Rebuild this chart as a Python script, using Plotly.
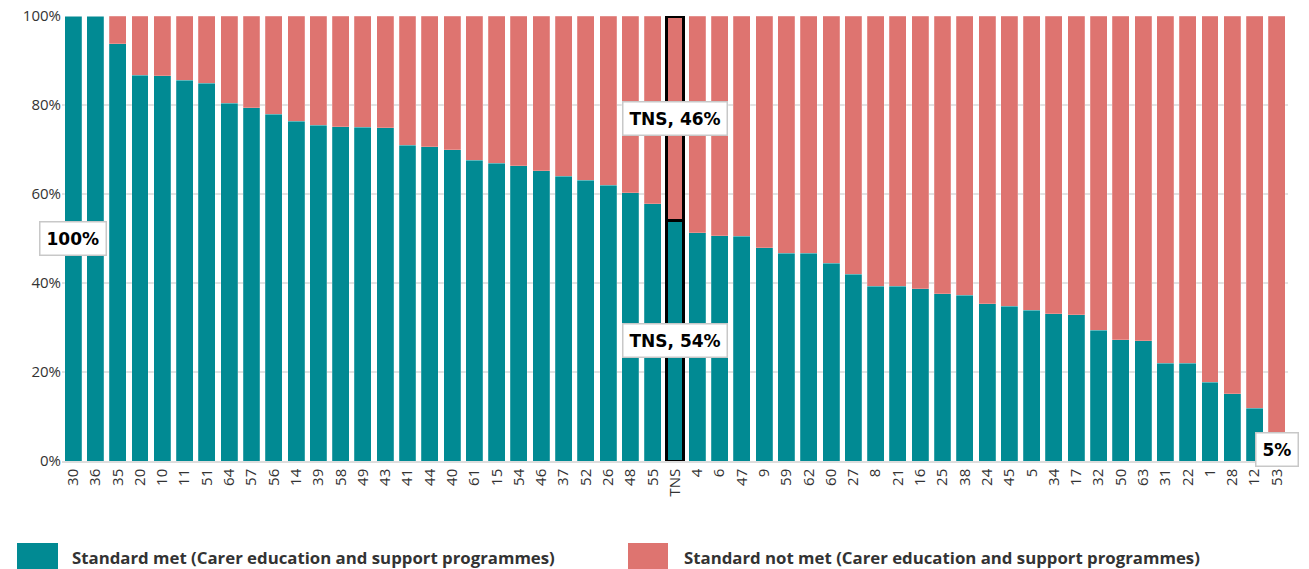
import plotly.graph_objects as go

categories = ["30", "36", "35", "20", "10", "11", "51", "64", "57", "56", "14", "39", "58", "49",
              "43", "41", "44", "40", "61", "15", "54", "46", "37", "52", "26", "48", "55", "TNS",
              "4", "6", "47", "9", "59", "62", "60", "27", "8", "21", "16", "25", "38", "24", "45",
              "5", "34", "17", "32", "50", "63", "31", "22", "1", "28", "12", "53"]
met = [100, 100, 93.8, 86.7, 86.6, 85.6, 84.9, 80.4, 79.4, 77.9, 76.3, 75.5, 75.1, 75.0,
       74.9, 71.0, 70.6, 69.9, 67.6, 66.9, 66.3, 65.2, 64.0, 63.1, 62.0, 60.3, 57.8, 54.0,
       51.3, 50.6, 50.5, 47.9, 46.7, 46.7, 44.4, 42.0, 39.3, 39.3, 38.7, 37.6, 37.2, 35.3, 34.8,
       33.9, 33.1, 32.9, 29.4, 27.2, 27.0, 22.0, 22.0, 17.7, 15.1, 11.8, 5.0]
not_met = [round(100 - v, 1) for v in met]
series_names = ["Standard met (Carer education and support programmes)",
                "Standard not met (Carer education and support programmes)"]
highlight = "TNS"
y_ticks = [0, 20, 40, 60, 80, 100]
y_tick_labels = ["0%", "20%", "40%", "60%", "80%", "100%"]

TEAL = "#018a93"
RED = "#de7470"

line_w = [3 if c == highlight else 0.6 for c in categories]
line_c = ["black" if c == highlight else "rgba(255,255,255,0.35)" for c in categories]

fig = go.Figure()
fig.add_trace(go.Bar(x=categories, y=met, name=series_names[0], marker=dict(
    color=TEAL, line=dict(color=line_c, width=line_w))))
fig.add_trace(go.Bar(x=categories, y=not_met, name=series_names[1], marker=dict(
    color=RED, line=dict(color=line_c, width=line_w))))

label_font = dict(family="DejaVu Sans", size=17, color="black")
def box(idx, y, text):
    fig.add_annotation(x=idx, y=y, text="<b>%s</b>" % text, showarrow=False, font=label_font,
                       bgcolor="white", bordercolor="#c8c8c8", borderwidth=1.5, borderpad=6)

i_hi = categories.index(highlight)
last = len(categories) - 1
box(0, met[0] / 2, "%d%%" % round(met[0]))
box(i_hi, met[i_hi] / 2, "%s, %d%%" % (highlight, round(met[i_hi])))
box(i_hi, met[i_hi] + not_met[i_hi] / 2, "%s, %d%%" % (highlight, round(not_met[i_hi])))
box(last, met[last] / 2, "%d%%" % round(met[last]))

# custom legend (large swatches)
W, L, R = 1309, 62, 21
pw = W - L - R
ph = 569 - 16 - 108
def px(x):
    return (x - L) / pw
def py(y):
    return (461 - y) / ph
for (x0, x1, tx), name, col in zip([(17, 58, 70), (628, 668, 682)], series_names, [TEAL, RED]):
    fig.add_shape(type="rect", xref="paper", yref="paper", x0=px(x0), x1=px(x1),
                  y0=py(543), y1=py(580), fillcolor=col, line=dict(width=0), layer="above")
    fig.add_annotation(xref="paper", yref="paper", x=px(tx), y=py(557), xanchor="left",
                       yanchor="middle", text="<b>%s</b>" % name, showarrow=False,
                       font=dict(family="Open Sans", size=16.8, color="#333333"))

fig.update_layout(
    width=1309, height=569, barmode="stack", bargap=0.24, showlegend=False,
    margin=dict(l=L, r=R, t=16, b=108), plot_bgcolor="white", paper_bgcolor="white",
    font=dict(family="Open Sans", size=15, color="#333333"),
)
fig.update_xaxes(type="category", tickangle=-90, showgrid=False, ticks="", showline=True,
                 linecolor="#dddddd", linewidth=1.5, automargin=False,
                 range=[-0.5, len(categories) - 0.5],
                 tickfont=dict(size=15, color="#333333"))
fig.update_yaxes(range=[0, 100], tickvals=y_ticks, ticktext=y_tick_labels, showgrid=True,
                 gridcolor="#e2e2e2", gridwidth=1.5, zeroline=False, ticks="", automargin=False,
                 tickfont=dict(size=15, color="#333333"))

fig.write_html("out.html")
